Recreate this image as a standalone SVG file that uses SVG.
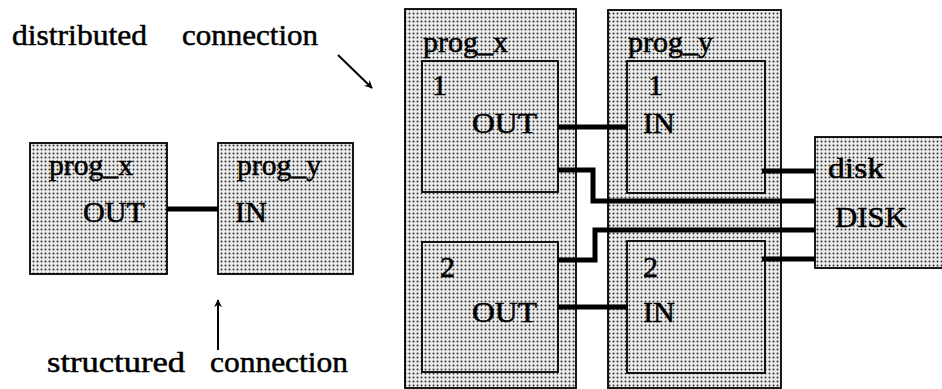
<svg xmlns="http://www.w3.org/2000/svg" width="942" height="389" viewBox="0 0 942 389">
<defs>
<pattern id="dots" width="4" height="4" patternUnits="userSpaceOnUse">
<rect width="4" height="4" fill="#ececec"/>
<circle cx="1.5" cy="1.5" r="0.95" fill="#2a2a2a"/>
</pattern>
<marker id="ah" viewBox="0 0 10 10" refX="9" refY="5" markerWidth="8" markerHeight="8" orient="auto-start-reverse" markerUnits="userSpaceOnUse">
<path d="M0,0 L10,5 L0,10 L3,5 z" fill="#000"/>
</marker>
</defs>
<style>
.box{fill:url(#dots);stroke:#000;stroke-width:1.8}
.t{font-family:"Liberation Serif","Times New Roman",serif;font-size:30px;fill:#000;stroke:#000;stroke-width:0.5}
.w{stroke:#000;stroke-width:5;fill:none;stroke-linejoin:miter}
.a{stroke:#000;stroke-width:2;fill:none;marker-end:url(#ah)}
</style>
<rect width="942" height="389" fill="#fff"/>

<text class="t" x="12" y="45" textLength="135" lengthAdjust="spacingAndGlyphs">distributed</text>
<text class="t" x="182" y="45" textLength="136" lengthAdjust="spacingAndGlyphs">connection</text>
<text class="t" x="47" y="372" textLength="138" lengthAdjust="spacingAndGlyphs">structured</text>
<text class="t" x="210" y="372" textLength="138" lengthAdjust="spacingAndGlyphs">connection</text>

<g id="left_prog_x">
<rect class="box" x="30" y="143" width="137" height="131"/>
<text class="t" x="49" y="175" textLength="84" lengthAdjust="spacingAndGlyphs">prog_x</text>
<text class="t" x="83" y="222" textLength="62" lengthAdjust="spacingAndGlyphs">OUT</text>
</g>
<g id="left_prog_y">
<rect class="box" x="218" y="143" width="135" height="131"/>
<text class="t" x="237" y="175" textLength="84" lengthAdjust="spacingAndGlyphs">prog_y</text>
<text class="t" x="235" y="222" textLength="32" lengthAdjust="spacingAndGlyphs">IN</text>
</g>

<g id="dist_prog_x">
<rect class="box" x="405" y="9" width="171" height="379"/>
<text class="t" x="423" y="52" textLength="85" lengthAdjust="spacingAndGlyphs">prog_x</text>
<g id="dist_prog_x_1">
<rect class="box" x="422" y="61" width="136" height="131"/>
<text class="t" x="432" y="95">1</text>
<text class="t" x="472" y="133" textLength="65" lengthAdjust="spacingAndGlyphs">OUT</text>
</g>
<g id="dist_prog_x_2">
<rect class="box" x="422" y="242" width="136" height="130"/>
<text class="t" x="440" y="277">2</text>
<text class="t" x="472" y="322" textLength="65" lengthAdjust="spacingAndGlyphs">OUT</text>
</g>
</g>

<g id="dist_prog_y">
<rect class="box" x="608" y="10" width="173" height="378"/>
<text class="t" x="628" y="52" textLength="85" lengthAdjust="spacingAndGlyphs">prog_y</text>
<g id="dist_prog_y_1">
<rect class="box" x="627" y="61" width="138" height="132"/>
<text class="t" x="648" y="95">1</text>
<text class="t" x="643" y="133" textLength="32" lengthAdjust="spacingAndGlyphs">IN</text>
</g>
<g id="dist_prog_y_2">
<rect class="box" x="627" y="241" width="138" height="132"/>
<text class="t" x="643" y="277">2</text>
<text class="t" x="643" y="322" textLength="32" lengthAdjust="spacingAndGlyphs">IN</text>
</g>
</g>

<g id="disk">
<rect class="box" x="815" y="137" width="130" height="131"/>
<text class="t" x="828" y="178" textLength="56" lengthAdjust="spacingAndGlyphs">disk</text>
<text class="t" x="835" y="227" textLength="72" lengthAdjust="spacingAndGlyphs">DISK</text>
</g>

<g id="connectors">
<line class="w" x1="167" y1="209" x2="218" y2="209"/>
<line class="w" x1="558" y1="127" x2="628" y2="127"/>
<line class="w" x1="558" y1="307" x2="628" y2="307"/>
<polyline class="w" points="558,170 593,170 593,201 815,201"/>
<polyline class="w" points="558,260 595,260 595,230 815,230"/>
<line class="w" x1="762" y1="171" x2="815" y2="171"/>
<line class="w" x1="762" y1="259" x2="815" y2="259"/>
<line class="a" x1="338" y1="55" x2="372" y2="88"/>
<line class="a" x1="218" y1="350" x2="218" y2="300"/>
</g>
</svg>
